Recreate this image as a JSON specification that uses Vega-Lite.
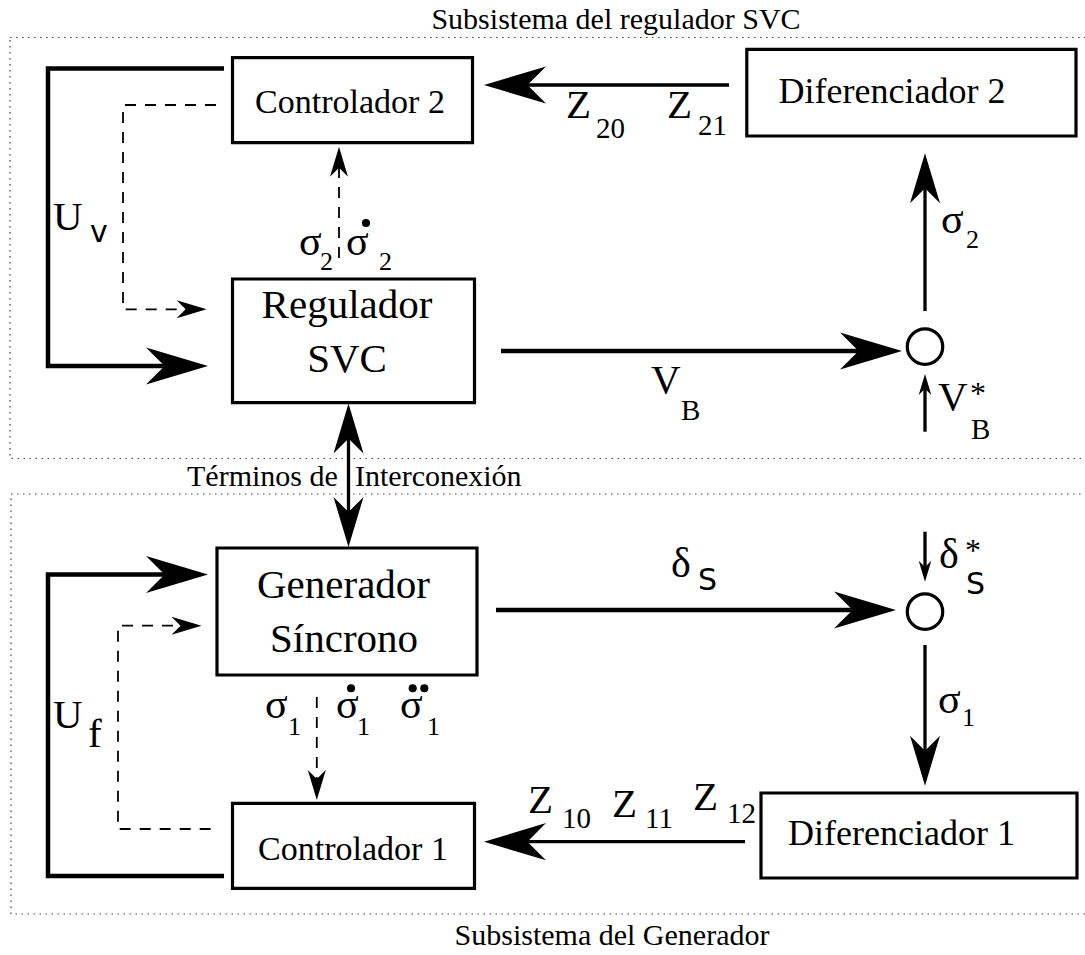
{
  "$schema": "https://vega.github.io/schema/vega-lite/v6.json",
  "width": 1085,
  "height": 955,
  "autosize": {"type": "none"},
  "padding": 0,
  "background": "white",
  "config": {"view": {"stroke": null}},
  "datasets": {
    "frames": [
      {"name": "Subsistema del regulador SVC", "x": 10, "x2": 1100, "y": 37.5, "y2": 458.5},
      {"name": "Subsistema del Generador", "x": 11, "x2": 1100, "y": 494, "y2": 914}
    ],
    "boxes": [
      {"name": "Controlador 2", "x": 232.5, "x2": 472.5, "y": 57.7, "y2": 142.7},
      {"name": "Diferenciador 2", "x": 746.8, "x2": 1076, "y": 49.3, "y2": 136},
      {"name": "Regulador SVC", "x": 232.5, "x2": 474.5, "y": 279, "y2": 402.7},
      {"name": "Generador Síncrono", "x": 217, "x2": 477, "y": 548, "y2": 675},
      {"name": "Controlador 1", "x": 232.5, "x2": 474.5, "y": 803.3, "y2": 888.3},
      {"name": "Diferenciador 1", "x": 761, "x2": 1077, "y": 793, "y2": 878}
    ],
    "paths": [
      {"id": "Uv", "seq": 1, "x": 224, "y": 68.5, "kind": "thick"},
      {"id": "Uv", "seq": 2, "x": 48, "y": 68.5, "kind": "thick"},
      {"id": "Uv", "seq": 3, "x": 48, "y": 366, "kind": "thick"},
      {"id": "Uv", "seq": 4, "x": 185, "y": 366, "kind": "thick"},
      {"id": "Uf", "seq": 1, "x": 224, "y": 876, "kind": "thick"},
      {"id": "Uf", "seq": 2, "x": 48, "y": 876, "kind": "thick"},
      {"id": "Uf", "seq": 3, "x": 48, "y": 574.5, "kind": "thick"},
      {"id": "Uf", "seq": 4, "x": 185, "y": 574.5, "kind": "thick"},
      {"id": "VB", "seq": 1, "x": 501, "y": 351, "kind": "thick"},
      {"id": "VB", "seq": 2, "x": 875, "y": 351, "kind": "thick"},
      {"id": "dS", "seq": 1, "x": 496, "y": 610, "kind": "thick"},
      {"id": "dS", "seq": 2, "x": 870, "y": 610, "kind": "thick"},
      {"id": "Z2", "seq": 1, "x": 729, "y": 85, "kind": "solid"},
      {"id": "Z2", "seq": 2, "x": 500, "y": 85, "kind": "solid"},
      {"id": "Z1", "seq": 1, "x": 745, "y": 841.7, "kind": "solid"},
      {"id": "Z1", "seq": 2, "x": 500, "y": 841.7, "kind": "solid"},
      {"id": "s2", "seq": 1, "x": 925, "y": 311, "kind": "solid"},
      {"id": "s2", "seq": 2, "x": 925, "y": 175, "kind": "solid"},
      {"id": "VBs", "seq": 1, "x": 925, "y": 431.7, "kind": "solid"},
      {"id": "VBs", "seq": 2, "x": 925, "y": 385, "kind": "solid"},
      {"id": "link", "seq": 1, "x": 348.5, "y": 420, "kind": "solid"},
      {"id": "link", "seq": 2, "x": 348.5, "y": 530, "kind": "solid"},
      {"id": "s1", "seq": 1, "x": 925, "y": 645, "kind": "solid"},
      {"id": "s1", "seq": 2, "x": 925, "y": 765, "kind": "solid"},
      {"id": "dSs", "seq": 1, "x": 925, "y": 531.7, "kind": "solid"},
      {"id": "dSs", "seq": 2, "x": 925, "y": 570, "kind": "solid"},
      {"id": "dTop", "seq": 1, "x": 216, "y": 105, "kind": "dashed"},
      {"id": "dTop", "seq": 2, "x": 123, "y": 105, "kind": "dashed"},
      {"id": "dTop", "seq": 3, "x": 123, "y": 309.3, "kind": "dashed"},
      {"id": "dTop", "seq": 4, "x": 192, "y": 309.3, "kind": "dashed"},
      {"id": "dBot", "seq": 1, "x": 210.7, "y": 829, "kind": "dashed"},
      {"id": "dBot", "seq": 2, "x": 118, "y": 829, "kind": "dashed"},
      {"id": "dBot", "seq": 3, "x": 118, "y": 625.7, "kind": "dashed"},
      {"id": "dBot", "seq": 4, "x": 187, "y": 625.7, "kind": "dashed"},
      {"id": "dS2", "seq": 1, "x": 339, "y": 258, "kind": "dashed"},
      {"id": "dS2", "seq": 2, "x": 339, "y": 165, "kind": "dashed"},
      {"id": "dS1", "seq": 1, "x": 316.8, "y": 697, "kind": "dashed"},
      {"id": "dS1", "seq": 2, "x": 316.8, "y": 782, "kind": "dashed"}
    ],
    "heads": [
      {"x": 484, "y": 85, "dir": "left", "head": "big"},
      {"x": 208, "y": 366, "dir": "right", "head": "big"},
      {"x": 206.6, "y": 309.3, "dir": "right", "head": "small"},
      {"x": 339, "y": 146.7, "dir": "up", "head": "small"},
      {"x": 902, "y": 351, "dir": "right", "head": "big"},
      {"x": 925, "y": 153.3, "dir": "up", "head": "mid"},
      {"x": 925, "y": 374, "dir": "up", "head": "tiny"},
      {"x": 348.5, "y": 403.5, "dir": "up", "head": "mid"},
      {"x": 348.5, "y": 547, "dir": "down", "head": "mid"},
      {"x": 208, "y": 574.5, "dir": "right", "head": "big"},
      {"x": 201.5, "y": 625.7, "dir": "right", "head": "small"},
      {"x": 316.8, "y": 800, "dir": "down", "head": "small"},
      {"x": 896, "y": 610, "dir": "right", "head": "big"},
      {"x": 925, "y": 581.7, "dir": "down", "head": "tiny"},
      {"x": 925, "y": 785.7, "dir": "down", "head": "mid"},
      {"x": 484, "y": 841.7, "dir": "left", "head": "big"}
    ],
    "nodes": [
      {"name": "suma VB", "x": 925, "y": 346.7},
      {"name": "suma deltaS", "x": 925, "y": 611.7}
    ],
    "dots": [
      {"x": 366, "y": 223},
      {"x": 351, "y": 688.3},
      {"x": 412.7, "y": 688.3},
      {"x": 424.3, "y": 688.3}
    ],
    "labels": [
      {"text": "Subsistema del regulador SVC", "x": 616, "y": 29, "role": "title"},
      {"text": "Subsistema del Generador", "x": 612, "y": 945, "role": "title"},
      {"text": "Términos de", "x": 187, "y": 486, "role": "note"},
      {"text": "Interconexión", "x": 355, "y": 486, "role": "note"},
      {"text": "Regulador", "x": 347, "y": 318.3, "role": "block"},
      {"text": "SVC", "x": 347, "y": 371.7, "role": "block"},
      {"text": "Generador", "x": 343.5, "y": 598.3, "role": "block"},
      {"text": "Síncrono", "x": 344, "y": 651.7, "role": "block"},
      {"text": "Controlador 2", "x": 350, "y": 112.7, "role": "ctrl"},
      {"text": "Controlador 1", "x": 353, "y": 860, "role": "ctrl"},
      {"text": "Diferenciador 2", "x": 892, "y": 103.3, "role": "diff"},
      {"text": "Diferenciador 1", "x": 901.5, "y": 845, "role": "diff"},
      {"text": "Z", "x": 566, "y": 118.3, "role": "var"},
      {"text": "Z", "x": 667, "y": 118.3, "role": "var"},
      {"text": "Z", "x": 528, "y": 813.3, "role": "var"},
      {"text": "Z", "x": 612, "y": 816.7, "role": "var"},
      {"text": "Z", "x": 693, "y": 810, "role": "var"},
      {"text": "V", "x": 651, "y": 393, "role": "var"},
      {"text": "V", "x": 938, "y": 410, "role": "var"},
      {"text": "U", "x": 53, "y": 230, "role": "var"},
      {"text": "U", "x": 53, "y": 728, "role": "var"},
      {"text": "f", "x": 88, "y": 747, "role": "var"},
      {"text": "20", "x": 596, "y": 138.3, "role": "sub"},
      {"text": "21", "x": 698, "y": 135, "role": "sub"},
      {"text": "10", "x": 562, "y": 828.3, "role": "sub"},
      {"text": "11", "x": 645, "y": 828.3, "role": "sub"},
      {"text": "12", "x": 727, "y": 823.3, "role": "sub"},
      {"text": "B", "x": 681, "y": 420, "role": "sub"},
      {"text": "B", "x": 971, "y": 439, "role": "sub"},
      {"text": "σ", "x": 299, "y": 255, "role": "greek"},
      {"text": "σ", "x": 346, "y": 255, "role": "greek"},
      {"text": "σ", "x": 941, "y": 233, "role": "greek"},
      {"text": "σ", "x": 938, "y": 713, "role": "greek"},
      {"text": "σ", "x": 265, "y": 718, "role": "greek"},
      {"text": "σ", "x": 336, "y": 718, "role": "greek"},
      {"text": "σ", "x": 400, "y": 718, "role": "greek"},
      {"text": "δ", "x": 939, "y": 568, "role": "greek"},
      {"text": "δ", "x": 671, "y": 577, "role": "greek"},
      {"text": "2", "x": 320, "y": 270, "role": "gsub"},
      {"text": "2", "x": 379, "y": 270, "role": "gsub"},
      {"text": "2", "x": 966, "y": 248, "role": "gsub"},
      {"text": "1", "x": 962, "y": 726, "role": "gsub"},
      {"text": "1", "x": 288, "y": 735, "role": "gsub"},
      {"text": "1", "x": 357, "y": 735, "role": "gsub"},
      {"text": "1", "x": 427, "y": 735, "role": "gsub"},
      {"text": "v", "x": 90, "y": 242, "role": "sans"},
      {"text": "S", "x": 966, "y": 594, "role": "sans"},
      {"text": "S", "x": 698, "y": 590, "role": "sans"},
      {"text": "*", "x": 970, "y": 404, "role": "star"},
      {"text": "*", "x": 965, "y": 561, "role": "star"}
    ]
  },
  "layer": [
    {
      "data": {"name": "frames"},
      "mark": {"type": "rect", "fill": null, "stroke": "#444", "strokeWidth": 1.2, "strokeDash": [1.5, 4.5]},
      "encoding": {
        "x": {"field": "x", "type": "quantitative", "scale": {"domain": [0, 1085], "nice": false, "zero": false}, "axis": null},
        "x2": {"field": "x2"},
        "y": {"field": "y", "type": "quantitative", "scale": {"domain": [0, 955], "nice": false, "zero": false, "reverse": true}, "axis": null},
        "y2": {"field": "y2"}
      }
    },
    {
      "data": {"name": "paths"},
      "transform": [{"filter": "datum.kind === 'thick'"}],
      "mark": {"type": "line", "color": "black", "strokeWidth": 4.5, "strokeJoin": "miter", "strokeCap": "butt"},
      "encoding": {
        "x": {"field": "x", "type": "quantitative"},
        "y": {"field": "y", "type": "quantitative"},
        "detail": {"field": "id"},
        "order": {"field": "seq", "type": "quantitative"}
      }
    },
    {
      "data": {"name": "paths"},
      "transform": [{"filter": "datum.kind === 'solid'"}],
      "mark": {"type": "line", "color": "black", "strokeWidth": 3.3, "strokeJoin": "miter", "strokeCap": "butt"},
      "encoding": {
        "x": {"field": "x", "type": "quantitative"},
        "y": {"field": "y", "type": "quantitative"},
        "detail": {"field": "id"},
        "order": {"field": "seq", "type": "quantitative"}
      }
    },
    {
      "data": {"name": "paths"},
      "transform": [{"filter": "datum.kind === 'dashed'"}],
      "mark": {"type": "line", "color": "black", "strokeWidth": 1.8, "strokeDash": [11, 9], "strokeJoin": "miter", "strokeCap": "butt"},
      "encoding": {
        "x": {"field": "x", "type": "quantitative"},
        "y": {"field": "y", "type": "quantitative"},
        "detail": {"field": "id"},
        "order": {"field": "seq", "type": "quantitative"}
      }
    },
    {
      "data": {"name": "boxes"},
      "mark": {"type": "rect", "fill": null, "stroke": "black", "strokeWidth": 3.2},
      "encoding": {
        "x": {"field": "x", "type": "quantitative"},
        "x2": {"field": "x2"},
        "y": {"field": "y", "type": "quantitative"},
        "y2": {"field": "y2"}
      }
    },
    {
      "data": {"name": "nodes"},
      "mark": {"type": "point", "shape": "circle", "size": 1257, "filled": false, "stroke": "black", "strokeWidth": 3.2, "opacity": 1},
      "encoding": {
        "x": {"field": "x", "type": "quantitative"},
        "y": {"field": "y", "type": "quantitative"}
      }
    },
    {
      "data": {"name": "heads"},
      "mark": {"type": "point", "shape": "M0,0L-2,-0.6L-1.4,0L-2,0.6Z", "filled": true, "color": "black", "opacity": 1, "strokeWidth": 0},
      "encoding": {
        "x": {"field": "x", "type": "quantitative"},
        "y": {"field": "y", "type": "quantitative"},
        "angle": {
          "condition": [
            {"test": "datum.dir === 'down'", "value": 90},
            {"test": "datum.dir === 'left'", "value": 180},
            {"test": "datum.dir === 'up'", "value": 270}
          ],
          "value": 0
        },
        "size": {
          "condition": [
            {"test": "datum.head === 'mid'", "value": 2500},
            {"test": "datum.head === 'small'", "value": 900},
            {"test": "datum.head === 'tiny'", "value": 441}
          ],
          "value": 3844
        }
      }
    },
    {
      "data": {"name": "dots"},
      "mark": {"type": "point", "shape": "circle", "size": 66, "filled": true, "color": "black", "opacity": 1},
      "encoding": {
        "x": {"field": "x", "type": "quantitative"},
        "y": {"field": "y", "type": "quantitative"}
      }
    },
    {
      "data": {"name": "labels"},
      "transform": [{"filter": "datum.role === 'title'"}],
      "mark": {"type": "text", "font": "Liberation Serif", "fontSize": 30, "align": "center", "baseline": "alphabetic", "color": "black"},
      "encoding": {"x": {"field": "x", "type": "quantitative"}, "y": {"field": "y", "type": "quantitative"}, "text": {"field": "text"}}
    },
    {
      "data": {"name": "labels"},
      "transform": [{"filter": "datum.role === 'note'"}],
      "mark": {"type": "text", "font": "Liberation Serif", "fontSize": 30, "align": "left", "baseline": "alphabetic", "color": "black"},
      "encoding": {"x": {"field": "x", "type": "quantitative"}, "y": {"field": "y", "type": "quantitative"}, "text": {"field": "text"}}
    },
    {
      "data": {"name": "labels"},
      "transform": [{"filter": "datum.role === 'block'"}],
      "mark": {"type": "text", "font": "Liberation Serif", "fontSize": 41, "align": "center", "baseline": "alphabetic", "color": "black"},
      "encoding": {"x": {"field": "x", "type": "quantitative"}, "y": {"field": "y", "type": "quantitative"}, "text": {"field": "text"}}
    },
    {
      "data": {"name": "labels"},
      "transform": [{"filter": "datum.role === 'ctrl'"}],
      "mark": {"type": "text", "font": "Liberation Serif", "fontSize": 34, "align": "center", "baseline": "alphabetic", "color": "black"},
      "encoding": {"x": {"field": "x", "type": "quantitative"}, "y": {"field": "y", "type": "quantitative"}, "text": {"field": "text"}}
    },
    {
      "data": {"name": "labels"},
      "transform": [{"filter": "datum.role === 'diff'"}],
      "mark": {"type": "text", "font": "Liberation Serif", "fontSize": 36, "align": "center", "baseline": "alphabetic", "color": "black"},
      "encoding": {"x": {"field": "x", "type": "quantitative"}, "y": {"field": "y", "type": "quantitative"}, "text": {"field": "text"}}
    },
    {
      "data": {"name": "labels"},
      "transform": [{"filter": "datum.role === 'var'"}],
      "mark": {"type": "text", "font": "Liberation Serif", "fontSize": 41, "align": "left", "baseline": "alphabetic", "color": "black"},
      "encoding": {"x": {"field": "x", "type": "quantitative"}, "y": {"field": "y", "type": "quantitative"}, "text": {"field": "text"}}
    },
    {
      "data": {"name": "labels"},
      "transform": [{"filter": "datum.role === 'sub'"}],
      "mark": {"type": "text", "font": "Liberation Serif", "fontSize": 29, "align": "left", "baseline": "alphabetic", "color": "black"},
      "encoding": {"x": {"field": "x", "type": "quantitative"}, "y": {"field": "y", "type": "quantitative"}, "text": {"field": "text"}}
    },
    {
      "data": {"name": "labels"},
      "transform": [{"filter": "datum.role === 'greek'"}],
      "mark": {"type": "text", "font": "Liberation Serif", "fontSize": 42, "align": "left", "baseline": "alphabetic", "color": "black"},
      "encoding": {"x": {"field": "x", "type": "quantitative"}, "y": {"field": "y", "type": "quantitative"}, "text": {"field": "text"}}
    },
    {
      "data": {"name": "labels"},
      "transform": [{"filter": "datum.role === 'gsub'"}],
      "mark": {"type": "text", "font": "Liberation Serif", "fontSize": 26, "align": "left", "baseline": "alphabetic", "color": "black"},
      "encoding": {"x": {"field": "x", "type": "quantitative"}, "y": {"field": "y", "type": "quantitative"}, "text": {"field": "text"}}
    },
    {
      "data": {"name": "labels"},
      "transform": [{"filter": "datum.role === 'sans'"}],
      "mark": {"type": "text", "font": "DejaVu Sans", "fontSize": 30, "align": "left", "baseline": "alphabetic", "color": "black"},
      "encoding": {"x": {"field": "x", "type": "quantitative"}, "y": {"field": "y", "type": "quantitative"}, "text": {"field": "text"}}
    },
    {
      "data": {"name": "labels"},
      "transform": [{"filter": "datum.role === 'star'"}],
      "mark": {"type": "text", "font": "Liberation Serif", "fontSize": 32, "align": "left", "baseline": "alphabetic", "color": "black"},
      "encoding": {"x": {"field": "x", "type": "quantitative"}, "y": {"field": "y", "type": "quantitative"}, "text": {"field": "text"}}
    }
  ]
}
